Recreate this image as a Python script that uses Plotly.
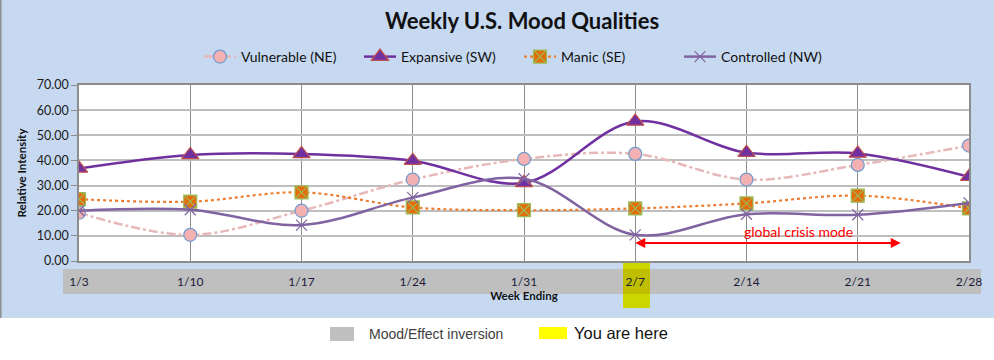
import plotly.graph_objects as go

weeks = ["1/3", "1/10", "1/17", "1/24", "1/31", "2/7", "2/14", "2/21", "2/28"]
vulnerable = [19.2, 10.4, 20.0, 32.4, 40.6, 42.6, 32.4, 38.2, 45.9]
expansive = [36.8, 42.2, 42.6, 39.9, 31.1, 55.5, 43.1, 42.8, 33.5]
manic = [24.6, 23.6, 27.3, 21.3, 20.2, 20.9, 22.9, 26.0, 20.9]
controlled = [20.0, 20.4, 14.3, 25.2, 32.7, 10.4, 18.6, 18.4, 23.1]

W, H = 994, 360
L, R, T, B = 79, 969, 85, 261


def px(p):
    return (p - L) / (R - L)


def py(p):
    return (B - p) / (B - T)


FONT = "Lato, 'Open Sans', sans-serif"
NARROW = "'Liberation Sans Narrow', 'Arial Narrow', 'Liberation Sans', sans-serif"
xs = list(range(len(weeks)))

fig = go.Figure()
fig.add_trace(go.Scatter(
    x=xs, y=vulnerable, name="Vulnerable (NE)", mode="lines+markers",
    line=dict(color="#E6B9B8", width=2.5, dash="dashdot", shape="spline", smoothing=1),
    marker=dict(symbol="circle", size=13, color="#F4B1B1", line=dict(color="#6F9BD1", width=1.2))))
fig.add_trace(go.Scatter(
    x=xs, y=expansive, name="Expansive (SW)", mode="lines+markers",
    line=dict(color="#7030A0", width=2.5, shape="spline", smoothing=1),
    marker=dict(symbol="triangle-up", size=15, color="#7030A0", line=dict(color="#C0504D", width=1.2))))
fig.add_trace(go.Scatter(
    x=xs, y=manic, name="Manic (SE)", mode="lines+markers",
    line=dict(color="#ED7D31", width=2.2, dash="dot", shape="spline", smoothing=1),
    marker=dict(symbol="square-x", size=13, color="#E46C0A", line=dict(color="#9BBB59", width=1.2))))
fig.add_trace(go.Scatter(
    x=xs, y=controlled, name="Controlled (NW)", mode="lines+markers",
    line=dict(color="#8064A2", width=2.5, shape="spline", smoothing=1),
    marker=dict(symbol="x-thin", size=11, color="#8064A2", line=dict(color="#8064A2", width=1.2))))

shapes = [
    dict(type="rect", xref="paper", yref="paper", x0=px(0), x1=px(W), y0=py(H), y1=py(318),
         fillcolor="white", line_width=0, layer="below"),
    dict(type="line", xref="paper", yref="paper", x0=px(0.8), x1=px(0.8), y0=py(318), y1=py(0),
         line=dict(color="#8C8C8C", width=1.5), layer="below"),
    dict(type="rect", xref="paper", yref="paper", x0=px(63), x1=px(981), y0=py(294), y1=py(269),
         fillcolor="#BFBFBF", line_width=0, layer="below"),
    dict(type="rect", xref="paper", yref="paper", x0=px(623), x1=px(650), y0=py(308), y1=py(261.5),
         fillcolor="#CBD600", line_width=0, layer="below"),
    dict(type="rect", xref="paper", yref="paper", x0=px(623), x1=px(650), y0=py(294), y1=py(269),
         fillcolor="#BFBE00", line_width=0, layer="below"),
    dict(type="rect", xref="paper", yref="paper", x0=px(330), x1=px(354), y0=py(341), y1=py(327),
         fillcolor="#C0C0C0", line_width=0, layer="below"),
    dict(type="rect", xref="paper", yref="paper", x0=px(539), x1=px(567), y0=py(339), y1=py(327),
         fillcolor="#FFFF00", line_width=0, layer="below"),
]

annotations = [
    dict(x=5, y=7.2, xref="x", yref="y", ax=7.4, ay=7.2, axref="x", ayref="y",
         showarrow=True, arrowhead=2, startarrowhead=2, arrowside="end+start", arrowsize=1,
         arrowwidth=2, arrowcolor="#FF0000", text=""),
    dict(x=6.47, y=11.6, xref="x", yref="y", text="global crisis mode", showarrow=False,
         font=dict(family=FONT, size=14, color="#FF0000")),
    dict(x=px(367), y=py(334), xref="paper", yref="paper", xanchor="left", yanchor="middle",
         text="Mood/Effect inversion", showarrow=False,
         font=dict(family=NARROW, size=14, color="#404040")),
    dict(x=px(572), y=py(333), xref="paper", yref="paper", xanchor="left", yanchor="middle",
         text="You are here", showarrow=False,
         font=dict(family=NARROW, size=16.5, color="#111111")),
]

fig.update_layout(
    width=W, height=H,
    margin=dict(l=L, r=W - R, t=T, b=H - B, autoexpand=False),
    paper_bgcolor="#C6D9F1", plot_bgcolor="white",
    font=dict(family=FONT, color="#1A1A1A"),
    title=dict(text="<b>Weekly U.S. Mood Qualities</b>", x=522 / W, xref="container", xanchor="center",
               y=1 - 21 / H, yref="container", yanchor="middle",
               font=dict(family=FONT, size=22, color="#111111")),
    legend=dict(orientation="h", x=px(199), xanchor="left", y=py(57), yanchor="middle",
                font=dict(family=FONT, size=14, color="#111111"), bgcolor="rgba(0,0,0,0)",
                itemwidth=32, entrywidth=113, entrywidthmode="pixels", tracegroupgap=0),
    showlegend=True,
    shapes=shapes, annotations=annotations,
    xaxis=dict(range=[0, 8], tickmode="array", tickvals=xs, ticktext=weeks,
               showgrid=True, gridcolor="#8C8C8C", gridwidth=1, zeroline=False,
               showline=True, linecolor="#8C8C8C", linewidth=1.5, mirror=True,
               ticks="", ticklabelstandoff=9, automargin=False,
               tickfont=dict(family=FONT, size=12, color="#1A1A3A"),
               title=dict(text="<b>Week Ending</b>", standoff=4,
                          font=dict(family=FONT, size=11.5, color="#111111"))),
    yaxis=dict(range=[0, 70], dtick=10, tickformat=".2f", automargin=False,
               showgrid=True, gridcolor="#BEBEBE", gridwidth=2, zeroline=False,
               showline=True, linecolor="#8C8C8C", linewidth=1.5, mirror=True,
               ticks="outside", ticklen=6, tickcolor="#8C8C8C",
               tickfont=dict(family=FONT, size=12.5, color="#1A1A1A"),
               title=dict(text="<b>Relative Intensity</b>", standoff=8,
                          font=dict(family=FONT, size=11.5, color="#111111"))),
)

fig.write_html("out.html", config={"displayModeBar": False},
               post_script="document.body.style.margin='0';document.body.style.padding='0';")
